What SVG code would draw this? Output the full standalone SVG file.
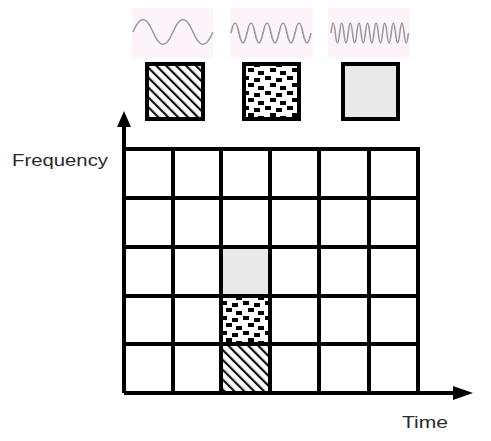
<svg xmlns="http://www.w3.org/2000/svg" width="491" height="441" viewBox="0 0 491 441">
<style>
.panel{fill:#fcf4fa}
.wave{fill:none;stroke:#9a9a9a;stroke-width:1.6}
.box{stroke:#000;stroke-width:4}
.grid{stroke:#000;stroke-width:4;fill:none;stroke-linecap:square}
.lbl{font-family:"Liberation Sans",Arial,sans-serif;font-size:17px;fill:#2a2a2a}
</style>
<defs>
<pattern id="hatch" patternUnits="userSpaceOnUse" width="7" height="7" patternTransform="rotate(-45)">
<rect width="7" height="7" fill="#fff"/>
<rect x="0" y="0" width="2.2" height="7" fill="#111"/>
</pattern>
<pattern id="dots" patternUnits="userSpaceOnUse" width="22" height="15">
<rect width="22" height="15" fill="#fff"/>
<rect x="1" y="1" width="6" height="4" fill="#000"/>
<rect x="12" y="3" width="6" height="4" fill="#000"/>
<rect x="6" y="8" width="6" height="4" fill="#000"/>
<rect x="16" y="11" width="6" height="4" fill="#000"/>
</pattern>
</defs>

<g id="wave-low">
<rect class="panel" x="132" y="8" width="81" height="50"/>
<path class="wave" d="M133 32 c7.2 -16.6 12.8 -16.6 20 0 s12.8 16.6 20 0 s12.8 -16.6 20 0 s12.8 16.6 20 0"/>
</g>
<g id="wave-mid">
<rect class="panel" x="230" y="8" width="83" height="50"/>
<path class="wave" d="M231 33 c2.9 -13.3 5.1 -13.3 8 0 s5.1 13.3 8 0 s5.1 -13.3 8 0 s5.1 13.3 8 0 s5.1 -13.3 8 0 s5.1 13.3 8 0 s5.1 -13.3 8 0 s5.1 13.3 8 0 s5.1 -13.3 8 0 s5.1 13.3 8 0"/>
</g>
<g id="wave-high">
<rect class="panel" x="328" y="8" width="82" height="50"/>
<path class="wave" d="M331 33 c1.55 -13.3 2.75 -13.3 4.3 0 s2.75 13.3 4.3 0 s2.75 -13.3 4.3 0 s2.75 13.3 4.3 0 s2.75 -13.3 4.3 0 s2.75 13.3 4.3 0 s2.75 -13.3 4.3 0 s2.75 13.3 4.3 0 s2.75 -13.3 4.3 0 s2.75 13.3 4.3 0 s2.75 -13.3 4.3 0 s2.75 13.3 4.3 0 s2.75 -13.3 4.3 0 s2.75 13.3 4.3 0 s2.75 -13.3 4.3 0 s2.75 13.3 4.3 0 s2.75 -13.3 4.3 0 s2.75 13.3 4.3 0"/>
</g>

<g id="key-hatch"><rect class="box" x="147" y="64" width="56" height="55" fill="url(#hatch)"/></g>
<g id="key-dots"><rect class="box" x="244" y="64" width="55" height="55" fill="url(#dots)"/></g>
<g id="key-gray"><rect class="box" x="343" y="64" width="55" height="55" fill="#e9e9e9"/></g>

<g id="cell-gray"><rect x="221" y="247" width="49" height="49" fill="#e9e9e9"/></g>
<g id="cell-dots"><rect x="221" y="296" width="49" height="48" fill="url(#dots)"/></g>
<g id="cell-hatch"><rect x="221" y="344" width="49" height="49" fill="url(#hatch)"/></g>

<g id="grid" class="grid">
<line x1="124" y1="149" x2="418" y2="149"/>
<line x1="124" y1="198" x2="418" y2="198"/>
<line x1="124" y1="247" x2="418" y2="247"/>
<line x1="124" y1="296" x2="418" y2="296"/>
<line x1="124" y1="344" x2="418" y2="344"/>
<line x1="173" y1="149" x2="173" y2="393"/>
<line x1="221" y1="149" x2="221" y2="393"/>
<line x1="270" y1="149" x2="270" y2="393"/>
<line x1="319" y1="149" x2="319" y2="393"/>
<line x1="369" y1="149" x2="369" y2="393"/>
<line x1="418" y1="149" x2="418" y2="393"/>
</g>

<g id="connectors">
<line x1="124" y1="393" x2="124" y2="122" stroke="#000" stroke-width="4"/>
<polygon points="124,111 131,127 117,127" fill="#000"/>
<line x1="124" y1="393" x2="458" y2="393" stroke="#000" stroke-width="4"/>
<polygon points="473,393 453,386 453,400" fill="#000"/>
</g>

<g id="labels">
<text class="lbl" x="12" y="166" textLength="96" lengthAdjust="spacingAndGlyphs">Frequency</text>
<text class="lbl" x="402" y="428" textLength="46" lengthAdjust="spacingAndGlyphs">Time</text>
</g>
</svg>
